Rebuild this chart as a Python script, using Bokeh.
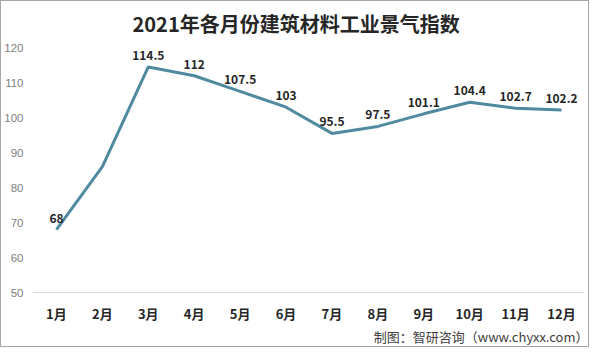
from bokeh.plotting import figure
from bokeh.models import (ColumnDataSource, Title, Range1d, FactorRange, FixedTicker,
                          CategoricalAxis)
from bokeh.core.properties import value
from bokeh.embed import file_html
from bokeh.resources import INLINE

months = ["1月", "2月", "3月", "4月", "5月", "6月", "7月", "8月", "9月", "10月", "11月", "12月"]
values = [68, 86, 114.5, 112, 107.5, 103, 95.5, 97.5, 101.1, 104.4, 102.7, 102.2]
labels = ["68", "", "114.5", "112", "107.5", "103", "95.5", "97.5", "101.1", "104.4", "102.7", "102.2"]
y_ticks = [50, 60, 70, 80, 90, 100, 110, 120]
title_text = "2021年各月份建筑材料工业景气指数"
footer_text = "制图：智研咨询（www.chyxx.com）"

src = ColumnDataSource(dict(m=months, v=values, t=labels))

p = figure(width=589, height=347, x_range=FactorRange(*months), y_range=Range1d(50, 121.5),
           output_backend="svg", toolbar_location=None,
           min_border_left=30, min_border_right=6, min_border_top=39, min_border_bottom=51)
p.background_fill_color = "white"
p.border_fill_color = "white"
p.outline_line_color = None
p.grid.visible = False

p.line("m", "v", source=src, line_color="#4f8aa0", line_width=3)

p.text("m", "v", text="t", source=src, text_align="center", text_baseline="bottom",
       y_offset=-7, text_font=value("Noto Sans CJK SC"), text_font_style="bold",
       text_font_size="12px", text_color="#262626")

xa = p.xaxis[0]
xa.axis_line_color = "#d9d9d9"
xa.major_tick_line_color = None
xa.minor_tick_line_color = None
xa.major_tick_out = 0
xa.major_tick_in = 0
xa.major_label_text_font = "Noto Sans CJK SC"
xa.major_label_text_font_style = "bold"
xa.major_label_text_font_size = "13px"
xa.major_label_text_color = "#262626"
xa.major_label_standoff = 11

ya = p.yaxis[0]
ya.ticker = FixedTicker(ticks=y_ticks)
ya.axis_line_color = None
ya.major_tick_line_color = None
ya.minor_tick_line_color = None
ya.major_tick_out = 0
ya.major_tick_in = 0
ya.major_label_text_font = "Liberation Sans"
ya.major_label_text_font_size = "11.5px"
ya.major_label_text_color = "#7f7f7f"
ya.major_label_standoff = 10

p.title = Title(text=title_text, align="left", offset=99, standoff=10,
                text_font="Noto Sans CJK SC", text_font_style="bold",
                text_font_size="20px", text_color="#262626")

# footer as a label-only axis below the month axis: invisible slots, footer in the last one
foot_slots = ["\u200b" * (i + 1) for i in range(99)] + [footer_text]
p.extra_x_ranges = {"foot": FactorRange(*foot_slots)}
fa = CategoricalAxis(x_range_name="foot")
fa.axis_line_color = None
fa.major_tick_line_color = None
fa.minor_tick_line_color = None
fa.major_tick_out = 0
fa.major_tick_in = 0
fa.major_label_text_align = "right"
fa.major_label_standoff = 1
fa.major_label_text_font = "Noto Sans CJK SC"
fa.major_label_text_font_size = "13px"
fa.major_label_text_color = "#404040"
p.add_layout(fa, "below")

p.styles = {"border": "1px solid #a6a6a6"}

open("out.html", "w").write(file_html(p, INLINE))
